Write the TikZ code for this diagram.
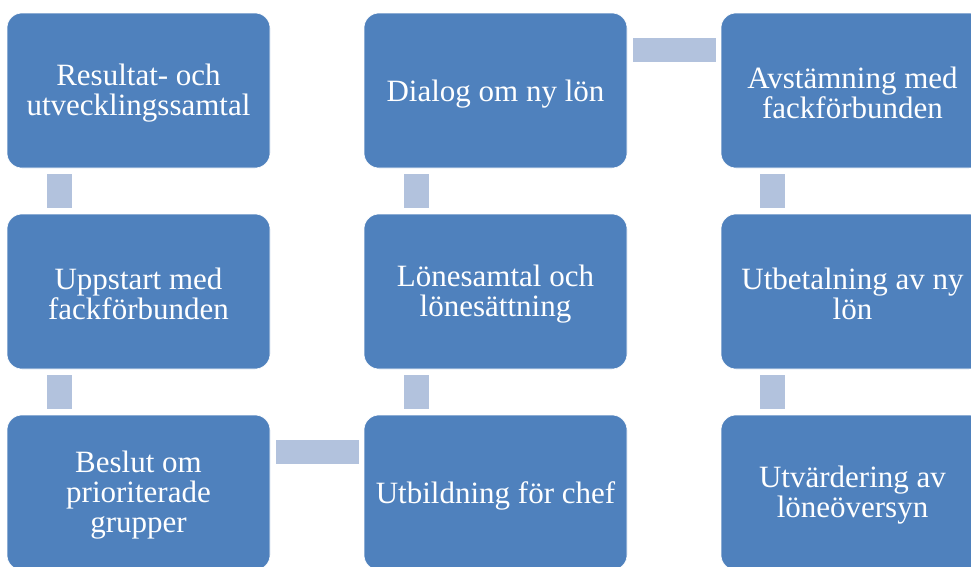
\documentclass[tikz,border=0pt]{standalone}
\usepackage{fontspec}
\setmainfont{Liberation Serif}
\definecolor{boxblue}{HTML}{4F81BD}
\definecolor{connblue}{HTML}{B2C2DD}
\tikzset{
  stage/.style={rectangle, rounded corners=15pt, fill=boxblue, draw=white, line width=0.6pt,
    minimum width=263pt, minimum height=155pt, inner sep=0pt},
  stagetext/.style={inner sep=0pt, text=white, align=center,
    font=\fontsize{31}{30}\selectfont},
  conn/.style={fill=connblue}
}
\begin{document}
\begin{tikzpicture}[x=1pt,y=-1pt]
\clip (0,0) rectangle (971,566);
\fill[white] (0,0) rectangle (971,566);
% boxes
\node[stage] (a1) at (138.5,90.5) {};
\node[stage] (a2) at (138.5,291.5) {};
\node[stage] (a3) at (138.5,492.5) {};
\node[stage] (b3) at (495.5,492.5) {};
\node[stage] (b2) at (495.5,291.5) {};
\node[stage] (b1) at (495.5,90.5) {};
\node[stage] (c1) at (852.5,90.5) {};
\node[stage] (c2) at (852.5,291.5) {};
\node[stage] (c3) at (852.5,492.5) {};
% texts
\node[stagetext] (a1t) at ([yshift=-2.5pt]a1.center) {Resultat- och\\utvecklingssamtal};
\node[stagetext] (a2t) at ([yshift=-2.5pt]a2.center) {Uppstart med\\fackförbunden};
\node[stagetext] (a3t) at ([yshift=-2.5pt]a3.center) {Beslut om\\prioriterade\\grupper};
\node[stagetext] (b3t) at ([yshift=-3.5pt]b3.center) {Utbildning för chef};
\node[stagetext] (b2t) at ([yshift=-2.5pt]b2.center) {Lönesamtal och\\lönesättning};
\node[stagetext] (b1t) at ([yshift=-3.5pt]b1.center) {Dialog om ny lön};
\node[stagetext] (c1t) at ([yshift=-2.5pt]c1.center) {Avstämning med\\fackförbunden};
\node[stagetext] (c2t) at ([yshift=-2.5pt]c2.center) {Utbetalning av ny\\lön};
\node[stagetext] (c3t) at ([yshift=-2.5pt]c3.center) {Utvärdering av\\löneöversyn};
% connectors
\fill[conn] ([xshift=40pt,yshift=-6pt]a1.south west) rectangle ([xshift=65pt,yshift=6pt]a2.north west);
\fill[conn] ([xshift=40pt,yshift=-6pt]a2.south west) rectangle ([xshift=65pt,yshift=6pt]a3.north west);
\fill[conn] ([xshift=6pt,yshift=-25pt]a3.north east) rectangle ([xshift=-5pt,yshift=-49pt]b3.north west);
\fill[conn] ([xshift=40pt,yshift=6pt]b3.north west) rectangle ([xshift=65pt,yshift=-6pt]b2.south west);
\fill[conn] ([xshift=40pt,yshift=6pt]b2.north west) rectangle ([xshift=65pt,yshift=-6pt]b1.south west);
\fill[conn] ([xshift=6pt,yshift=-25pt]b1.north east) rectangle ([xshift=-5pt,yshift=-49pt]c1.north west);
\fill[conn] ([xshift=39pt,yshift=-6pt]c1.south west) rectangle ([xshift=64pt,yshift=6pt]c2.north west);
\fill[conn] ([xshift=39pt,yshift=-6pt]c2.south west) rectangle ([xshift=64pt,yshift=6pt]c3.north west);
\end{tikzpicture}
\end{document}
